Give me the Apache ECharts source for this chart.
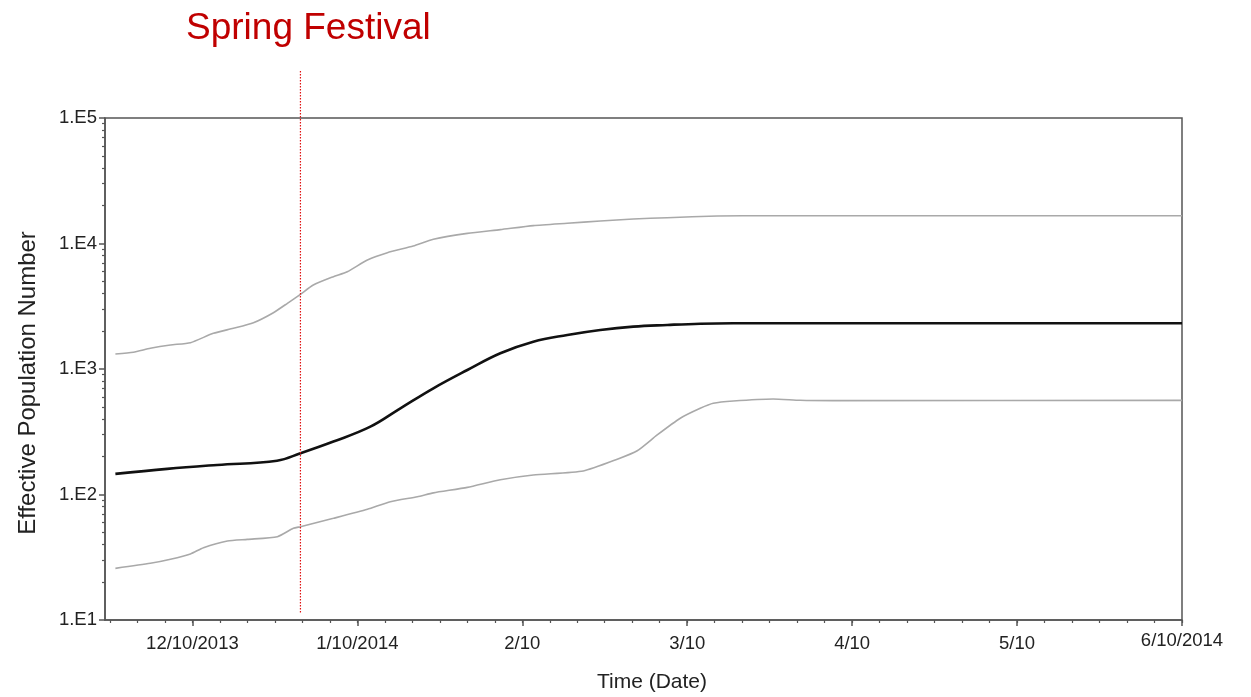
<!DOCTYPE html>
<html>
<head>
<meta charset="utf-8">
<script src="https://cdn.jsdelivr.net/npm/echarts@6/dist/echarts.min.js"></script>
<style>
html,body{margin:0;padding:0;background:#fff;}
#chart{width:1251px;height:697px;}
</style>
</head>
<body>
<div id="chart"></div>
<script>
// x values are months after 12/10/2013 (ticks are evenly spaced by month)
const tickLabels = ['12/10/2013','1/10/2014','2/10','3/10','4/10','5/10','6/10/2014'];
const tickMonths = [0,1,2,3,4,5,6];
const yTickLabels = ['1.E1','1.E2','1.E3','1.E4','1.E5'];

const medianX = [-0.467,-0.153,0.150,0.513,0.655,0.855,1.079,1.261,1.461,1.667,1.867,2.067,2.273,2.473,2.673,2.879,3.079,3.279,4.0,5.0,6.0];
const medianY = [146,160,172,186,213,264,347,486,702,982,1335,1652,1866,2046,2175,2243,2296,2313,2313,2313,2313];

const upperX = [-0.467,-0.358,-0.255,-0.133,-0.012,0.127,0.248,0.370,0.491,0.576,0.655,0.733,0.855,0.939,1.061,1.182,1.339,1.461,1.667,1.867,2.067,2.273,2.473,2.673,2.879,3.182,3.485,4.5,6.0];
const upperY = [1318,1360,1462,1554,1621,1925,2110,2338,2810,3337,3935,4670,5440,5960,7390,8450,9550,10800,12050,12900,13880,14500,15110,15670,16060,16570,16650,16650,16650];

const lowerX = [-0.467,-0.255,-0.133,-0.012,0.067,0.212,0.333,0.515,0.612,0.655,0.855,1.061,1.2,1.364,1.461,1.667,1.867,2.067,2.370,2.576,2.697,2.818,2.958,3.079,3.158,3.279,3.521,3.685,3.885,6.0];
const lowerY = [25.8,28.3,30.5,33.6,37.7,42.6,43.9,46.1,53.8,55.4,64.6,76.2,87.7,96,103,114,131,143,154,191,223,298,405,486,533,556,577,563,560,562];

const springFestivalX = 0.655;
const springFestivalRange = [11.5, 240000];

const xMin = -0.53, xMax = 6;
const minorX = [];
for (let k = -3; k <= 36; k++) minorX.push(k / 6);
const minorY = [];
for (let d = 10; d < 100000; d *= 10) for (let m = 2; m <= 9; m++) minorY.push(m * d);

const zip = (xs, ys) => xs.map((x, i) => [x, ys[i]]);

const chart = echarts.init(document.getElementById('chart'), null, {renderer: 'canvas'});
const font = 'Liberation Sans, Arial, sans-serif';
chart.setOption({
  animation: false,
  backgroundColor: '#fff',
  title: {
    text: 'Spring Festival',
    left: 181, top: 5,
    textStyle: {color: '#c00000', fontSize: 37, fontWeight: 'normal', fontFamily: font}
  },
  grid: {left: 105, right: 69, top: 118, bottom: 77, outerBoundsMode: 'none', containLabel: false,
    show: true, borderColor: '#555', borderWidth: 1.5, backgroundColor: 'transparent'},
  xAxis: [{
    type: 'value', min: xMin, max: xMax,
    name: 'Time (Date)', nameLocation: 'middle', nameGap: 52,
    nameTextStyle: {fontSize: 21, color: '#222', fontFamily: font, padding: [0, 0, 0, 17]},
    axisLine: {show: true, onZero: false, lineStyle: {color: '#555', width: 1.5}},
    axisTick: {show: true, length: 6, customValues: tickMonths, lineStyle: {color: '#555', width: 1.5}},
    axisLabel: {customValues: tickMonths, margin: 14, fontSize: 18.5, color: '#222', fontFamily: font,
      formatter: v => {
        const i = Math.round(v);
        const t = tickLabels[i] || '';
        return i === tickLabels.length - 1 ? '{up|' + t + '}' : t;
      },
      rich: {up: {fontSize: 18.5, color: '#222', fontFamily: font, lineHeight: 13}}
    },
    splitLine: {show: false}
  }, {
    type: 'value', min: xMin, max: xMax, position: 'bottom',
    axisLine: {show: false, onZero: false},
    axisTick: {show: true, length: 3, customValues: minorX, lineStyle: {color: '#555', width: 1.2}},
    axisLabel: {show: false}, splitLine: {show: false}
  }],
  yAxis: [{
    type: 'log', logBase: 10, min: 10, max: 100000,
    name: 'Effective Population Number', nameLocation: 'middle', nameGap: 65,
    nameTextStyle: {fontSize: 24, color: '#222', fontFamily: font, padding: [0, 28, 0, 0]},
    axisLine: {show: true, onZero: false, lineStyle: {color: '#555', width: 1.5}},
    axisTick: {show: true, length: 6, lineStyle: {color: '#555', width: 1.5}},
    axisLabel: {fontSize: 18.5, color: '#222', margin: 8, fontFamily: font,
      formatter: v => yTickLabels[Math.round(Math.log10(v)) - 1] || ''},
    splitLine: {show: false}
  }, {
    type: 'log', logBase: 10, min: 10, max: 100000, position: 'left',
    axisLine: {show: false, onZero: false},
    axisTick: {show: true, length: 3, customValues: minorY, lineStyle: {color: '#555', width: 1.2}},
    axisLabel: {show: false}, splitLine: {show: false}
  }],
  series: [
    {type: 'line', name: 'upper', data: zip(upperX, upperY), showSymbol: false, symbol: 'none',
      lineStyle: {color: '#a9a9a9', width: 1.6}, smooth: 0.2},
    {type: 'line', name: 'lower', data: zip(lowerX, lowerY), showSymbol: false, symbol: 'none',
      lineStyle: {color: '#a9a9a9', width: 1.6}, smooth: 0.2},
    {type: 'line', name: 'median', data: zip(medianX, medianY), showSymbol: false, symbol: 'none',
      lineStyle: {color: '#111', width: 2.6}, smooth: 0.4},
    {type: 'line', name: 'spring', clip: false,
      data: springFestivalRange.map(v => [springFestivalX, v]), showSymbol: false, symbol: 'none',
      lineStyle: {color: '#e01010', width: 1.2, type: [1.5, 1.5]}}
  ]
});
</script>
</body>
</html>
